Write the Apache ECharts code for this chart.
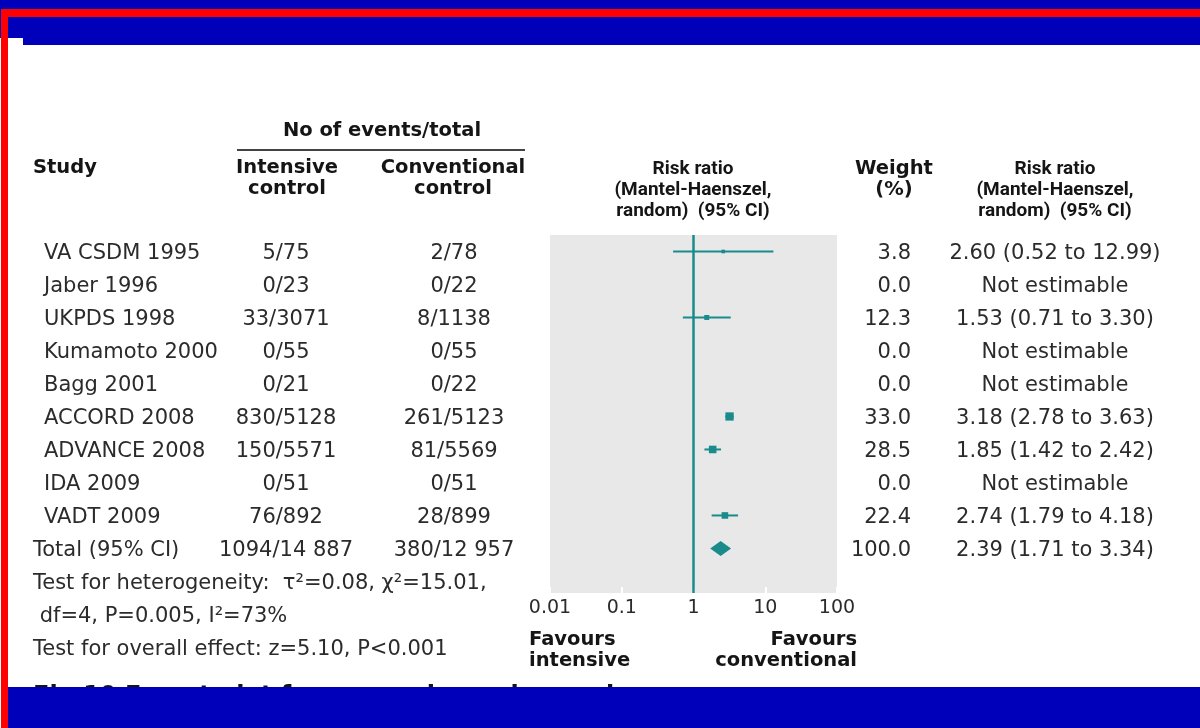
<!DOCTYPE html>
<html>
<head>
<meta charset="utf-8">
<title>Forest plot: intensive vs conventional control</title>
<script src="https://cdn.jsdelivr.net/npm/echarts@6/dist/echarts.min.js"></script>
<style>
  html, body { margin: 0; padding: 0; background: #ffffff; }
  #chart { width: 1200px; height: 728px; }
</style>
</head>
<body>
<div id="chart"></div>
<script>
// ---- data -------------------------------------------------------------
const studies = ['VA CSDM 1995', 'Jaber 1996', 'UKPDS 1998', 'Kumamoto 2000', 'Bagg 2001',
                 'ACCORD 2008', 'ADVANCE 2008', 'IDA 2009', 'VADT 2009'];
const intensiveEvents = ['5/75', '0/23', '33/3071', '0/55', '0/21', '830/5128', '150/5571', '0/51', '76/892'];
const conventionalEvents = ['2/78', '0/22', '8/1138', '0/55', '0/22', '261/5123', '81/5569', '0/51', '28/899'];
const riskRatio = [2.60, null, 1.53, null, null, 3.18, 1.85, null, 2.74];
const ciLower   = [0.52, null, 0.71, null, null, 2.78, 1.42, null, 1.79];
const ciUpper   = [12.99, null, 3.30, null, null, 3.63, 2.42, null, 4.18];
const weights   = [3.8, 0.0, 12.3, 0.0, 0.0, 33.0, 28.5, 0.0, 22.4];

const totalLabel = 'Total (95% CI)';
const totalIntensive = '1094/14 887';
const totalConventional = '380/12 957';
const totalRR = [2.39, 1.71, 3.34];   // estimate, lower, upper
const totalWeight = 100.0;

const axisTicks = [0.01, 0.1, 1, 10, 100];
const footnotes = [
  'Test for heterogeneity:  \u03c4\u00b2=0.08, \u03c7\u00b2=15.01,',
  ' df=4, P=0.005, I\u00b2=73%',
  'Test for overall effect: z=5.10, P<0.001'
];

// ---- styling ----------------------------------------------------------
const TEAL = '#1a8b8b';
const INK = '#2b2b2b';
const HEAD_INK = '#151515';
const BODY_FONT = '21px "DejaVu Sans", sans-serif';
const BOLD_FONT = 'bold 19.5px "DejaVu Sans", sans-serif';
const MED_FONT = 'bold 19px Roboto, "Liberation Sans", sans-serif';

// rows: each study, then the pooled total
const fmt2 = v => v.toFixed(2);
const rrText = riskRatio.map((r, i) =>
  r == null ? 'Not estimable' : `${fmt2(r)} (${fmt2(ciLower[i])} to ${fmt2(ciUpper[i])})`
).concat([`${fmt2(totalRR[0])} (${fmt2(totalRR[1])} to ${fmt2(totalRR[2])})`]);
const weightText = weights.concat([totalWeight]).map(w => w.toFixed(1));
const studyText = studies.concat([totalLabel]);
const intText = intensiveEvents.concat([totalIntensive]);
const convText = conventionalEvents.concat([totalConventional]);

// a column of text placed on the shared row scale of the table grid
function textColumn(x, texts, align, font, firstRow, xOffsets) {
  return {
    type: 'custom', xAxisIndex: 1, yAxisIndex: 1, silent: true, clip: false,
    data: texts.map((t, i) => [x + (xOffsets ? xOffsets[i] : 0), firstRow + i]),
    renderItem: (params, api) => {
      const p = api.coord([api.value(0), api.value(1)]);
      return {
        type: 'text', x: p[0], y: p[1],
        style: { text: texts[params.dataIndex], align: align, verticalAlign: 'middle', font: font, fill: INK }
      };
    }
  };
}

const studyRows = riskRatio
  .map((r, i) => r == null ? null : [r, ciLower[i], ciUpper[i], i, weights[i]])
  .filter(d => d);

const chart = echarts.init(document.getElementById('chart'), null, { renderer: 'canvas' });

function headText(x, y, text, font, align) {
  return { type: 'text', x: x, y: y,
           style: { text: text, font: font, lineHeight: 21, fill: HEAD_INK, align: align || 'center', verticalAlign: 'middle' } };
}

const option = {
  backgroundColor: '#ffffff',
  animation: false,
  grid: [
    { left: 550, top: 235, width: 287, height: 358, show: true, backgroundColor: '#e8e8e8', borderWidth: 0 },
    { left: 0, top: 237, width: 1200, height: 429, show: false }
  ],
  xAxis: [
    {
      type: 'log', logBase: 10, min: 0.01, max: 100, gridIndex: 0, position: 'bottom',
      axisLine: { show: false, onZero: false },
      axisTick: { show: true, inside: true, length: 6, lineStyle: { color: '#ffffff', width: 2 } },
      splitLine: { show: false },
      axisLabel: {
        margin: 6, color: INK, fontFamily: '"DejaVu Sans", sans-serif', fontSize: 19,
        formatter: v => {
          const hit = axisTicks.find(t => Math.abs(Math.log10(t) - Math.log10(v)) < 1e-6);
          return hit == null ? '' : String(hit);
        }
      }
    },
    { type: 'value', min: 0, max: 1200, gridIndex: 1, show: false }
  ],
  yAxis: [
    { type: 'value', min: -0.5, max: 10.35, inverse: true, gridIndex: 0, show: false },
    { type: 'value', min: -0.5, max: 12.5, inverse: true, gridIndex: 1, show: false }
  ],
  series: [
    // line of no effect
    {
      type: 'line', xAxisIndex: 0, yAxisIndex: 0, data: [], silent: true,
      markLine: {
        symbol: 'none', silent: true, label: { show: false },
        lineStyle: { color: TEAL, width: 2.5, type: 'solid' },
        data: [{ xAxis: 1 }]
      }
    },
    // individual study estimates with confidence intervals
    {
      type: 'custom', xAxisIndex: 0, yAxisIndex: 0, silent: true,
      data: studyRows,
      renderItem: (params, api) => {
        const mid = api.coord([api.value(0), api.value(3)]);
        const lo = api.coord([api.value(1), api.value(3)]);
        const hi = api.coord([api.value(2), api.value(3)]);
        const s = 3 + api.value(4) * 0.16;
        return {
          type: 'group',
          children: [
            { type: 'line', shape: { x1: lo[0], y1: lo[1], x2: hi[0], y2: hi[1] },
              style: { stroke: TEAL, lineWidth: 2 } },
            { type: 'rect', shape: { x: mid[0] - s / 2, y: mid[1] - s / 2, width: s, height: s },
              style: { fill: TEAL } }
          ]
        };
      }
    },
    // pooled estimate diamond
    {
      type: 'custom', xAxisIndex: 0, yAxisIndex: 0, silent: true,
      data: [[totalRR[0], totalRR[1], totalRR[2], studies.length]],
      renderItem: (params, api) => {
        const mid = api.coord([api.value(0), api.value(3)]);
        const lo = api.coord([api.value(1), api.value(3)]);
        const hi = api.coord([api.value(2), api.value(3)]);
        const h = 7.5;
        return {
          type: 'polygon',
          shape: { points: [[lo[0], mid[1]], [mid[0], mid[1] - h], [hi[0], mid[1]], [mid[0], mid[1] + h]] },
          style: { fill: TEAL }
        };
      }
    },
    // table columns
    textColumn(33, studyText, 'left', BODY_FONT, 0, studyText.map((t, i) => i < studies.length ? 11 : 0)),
    textColumn(286, intText, 'center', BODY_FONT, 0),
    textColumn(454, convText, 'center', BODY_FONT, 0),
    textColumn(911, weightText, 'right', BODY_FONT, 0),
    textColumn(1055, rrText, 'center', BODY_FONT, 0),
    textColumn(33, footnotes, 'left', BODY_FONT, 10)
  ],
  graphic: [
    // column headers
    headText(382, 131, 'No of events/total', BOLD_FONT),
    { type: 'line', shape: { x1: 237, y1: 150, x2: 525, y2: 150 }, style: { stroke: '#444', lineWidth: 2 } },
    headText(33, 168, 'Study', BOLD_FONT, 'left'),
    headText(287, 178, 'Intensive\ncontrol', BOLD_FONT),
    headText(453, 178, 'Conventional\ncontrol', BOLD_FONT),
    headText(693, 190, 'Risk ratio\n(Mantel-Haenszel,\nrandom)  (95% CI)', MED_FONT),
    headText(894, 179, 'Weight\n(%)', BOLD_FONT),
    headText(1055, 190, 'Risk ratio\n(Mantel-Haenszel,\nrandom)  (95% CI)', MED_FONT),
    // direction labels under the axis
    headText(529, 650, 'Favours\nintensive', BOLD_FONT, 'left'),
    headText(857, 650, 'Favours\nconventional', BOLD_FONT, 'right'),
    // figure caption, mostly covered by the footer band
    { type: 'text', x: 33, y: 685, z: 10, style: { text: 'Fig 10 Forest plot for severe hypoglycaemia', font: 'bold 24px "DejaVu Sans", sans-serif', fill: HEAD_INK, align: 'left', verticalAlign: 'top' } },
    // slide frame: header band, red rule, left red edge, footer band
    { type: 'rect', z: 20, shape: { x: 0, y: 0, width: 1200, height: 9 }, style: { fill: '#0000bb' } },
    { type: 'rect', z: 20, shape: { x: 0, y: 0, width: 1, height: 38 }, style: { fill: '#0000bb' } },
    { type: 'rect', z: 20, shape: { x: 1, y: 9, width: 1199, height: 8 }, style: { fill: '#ff0000' } },
    { type: 'rect', z: 20, shape: { x: 8, y: 17, width: 1192, height: 21 }, style: { fill: '#0000bb' } },
    { type: 'rect', z: 20, shape: { x: 23, y: 17, width: 1177, height: 28 }, style: { fill: '#0000bb' } },
    { type: 'rect', z: 20, shape: { x: 1, y: 9, width: 7, height: 719 }, style: { fill: '#ff0000' } },
    { type: 'rect', z: 20, shape: { x: 8, y: 687, width: 1192, height: 41 }, style: { fill: '#0000bb' } }
  ]
};

chart.setOption(option);
</script>
</body>
</html>
